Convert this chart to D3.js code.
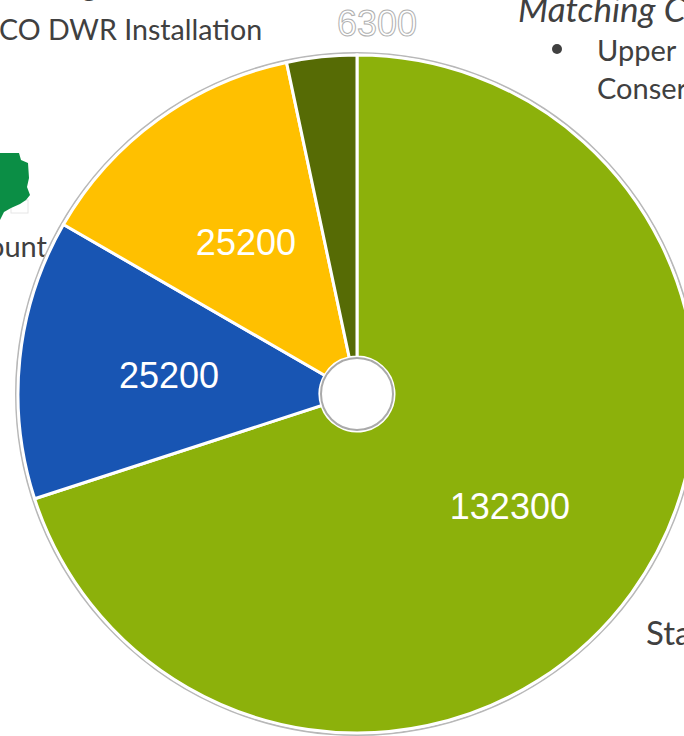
<!DOCTYPE html>
<html>
<head>
<meta charset="utf-8">
<script src="https://cdnjs.cloudflare.com/ajax/libs/d3/7.8.5/d3.min.js"></script>
<style>
  html, body { margin: 0; padding: 0; background: #fff; overflow: hidden; }
  .slide { font-family: Lato, "Open Sans", sans-serif; fill: #404040; }
  .val { font-family: "Liberation Sans", Arial, sans-serif; font-size: 36px; fill: #fff; text-anchor: middle; }
</style>
</head>
<body>
<div id="chart"></div>
<script>
// values, clockwise from 12 o'clock
var values = [132300, 25200, 25200, 6300];
var colors = ["#8CB10B", "#1855B3", "#FFC000", "#566B05"];

var width = 684, height = 736;
var cx = 357, cy = 394, outer = 341, inner = 37;

var svg = d3.select("#chart").append("svg")
  .attr("width", width)
  .attr("height", height);

// bits of the slide text behind the chart
var slideText = [
  {t: "g", x: 82, y: -4, size: 29},
  {t: ",", x: 179, y: -4, size: 29},
  {t: "CO DWR Installation", x: -1, y: 40, size: 28.6},
  {t: "Matching C", x: 518, y: 22, size: 35, style: "italic"},
  {t: "Upper", x: 597, y: 61, size: 29},
  {t: "Conser", x: 597, y: 99, size: 29},
  {t: "ount", x: -12, y: 257, size: 29},
  {t: "Sta", x: 646, y: 645, size: 33}
];

svg.selectAll("text.slide").data(slideText).enter().append("text")
  .attr("class", "slide")
  .attr("x", d => d.x)
  .attr("y", d => d.y)
  .attr("font-size", d => d.size)
  .attr("font-style", d => d.style || "normal")
  .text(d => d.t);

svg.append("circle")
  .attr("cx", 557).attr("cy", 49).attr("r", 5)
  .attr("fill", "#404040");

// little green map piece on the left edge
var mapShape = [[0,153],[19,153],[21,160],[28,163],[29,178],[27,187],[30,195],[26,200],[20,204],[11,208],[4,212],[0,220]];
svg.append("rect")
  .attr("x", 11).attr("y", 200).attr("width", 17).attr("height", 13)
  .attr("fill", "none").attr("stroke", "#e6e6e6");
svg.append("path")
  .attr("d", d3.line()(mapShape) + "Z")
  .attr("fill", "#0B8E45");

var g = svg.append("g")
  .attr("transform", "translate(" + cx + "," + cy + ")");

var pie = d3.pie().sort(null);
var arcs = pie(values);
var arc = d3.arc().innerRadius(inner).outerRadius(outer - 2);

// thin grey rims outside and around the hole
g.append("circle").attr("r", outer).attr("fill", "none").attr("stroke", "#b8b8b8").attr("stroke-width", 2);
g.selectAll("path.slice").data(arcs).enter().append("path")
  .attr("class", "slice")
  .attr("d", arc)
  .attr("fill", (d, i) => colors[i])
  .attr("stroke", "#fff")
  .attr("stroke-width", 3);
g.append("circle").attr("r", inner - 1).attr("fill", "#fff").attr("stroke", "#aaa").attr("stroke-width", 2);

// value labels
var labelArc = d3.arc().innerRadius(189).outerRadius(189);
g.selectAll("text.val").data(arcs.slice(0, 3)).enter().append("text")
  .attr("class", "val")
  .attr("x", d => labelArc.centroid(d)[0])
  .attr("y", d => labelArc.centroid(d)[1] + 14)
  .text(d => d.value);

// the small one sits outside the pie and is only outlined
svg.append("text")
  .attr("x", 377).attr("y", 36)
  .attr("text-anchor", "middle")
  .attr("font-family", "Liberation Sans, Arial, sans-serif")
  .attr("font-size", 36)
  .attr("fill", "#fff")
  .attr("stroke", "#b0b0b0")
  .attr("stroke-width", 1)
  .text(values[3]);
</script>
</body>
</html>
